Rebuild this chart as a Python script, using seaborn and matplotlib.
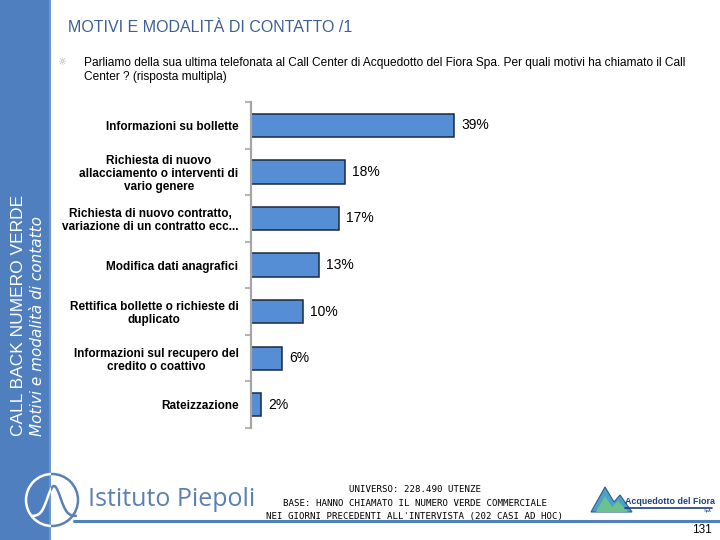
import numpy as np
import pandas as pd
import matplotlib
matplotlib.use("Agg")
import matplotlib.pyplot as plt
import seaborn as sns
from matplotlib.patches import Rectangle, Circle, Polygon

# ---- data ----
categories = [
    "Informazioni su bollette",
    "Richiesta di nuovo\nallacciamento o interventi di\nvario genere",
    "Richiesta di nuovo contratto,\nvariazione di un contratto ecc...",
    "Modifica dati anagrafici",
    "Rettifica bollette o richieste di\nduplicato",
    "Informazioni sul recupero del\ncredito o coattivo",
    "Rateizzazione",
]
values = [39, 18, 17, 13, 10, 6, 2]
value_labels = ["39%", "18%", "17%", "13%", "10%", "6%", "2%"]

title = "MOTIVI E MODALITÀ DI CONTATTO /1"
subtitle = ("Parliamo della sua ultima telefonata al Call Center di Acquedotto del Fiora Spa. "
            "Per quali motivi ha chiamato il Call\nCenter ? (risposta multipla)")
side_title = "CALL BACK NUMERO VERDE"
side_sub = "Motivi e modalità di contatto"
footer_lines = ["UNIVERSO: 228.490 UTENZE",
                "BASE: HANNO CHIAMATO IL NUMERO VERDE COMMERCIALE",
                "NEI GIORNI PRECEDENTI ALL'INTERVISTA (202 CASI AD HOC)"]
page_no = "131"

df = pd.DataFrame({"cat": categories, "val": values})

sns.set_theme(style="white")
plt.rcParams["font.family"] = ["Liberation Sans", "DejaVu Sans"]

W, H = 720, 540
fig = plt.figure(figsize=(7.2, 5.4), dpi=100)
fig.patch.set_facecolor("white")

# background/decoration axes in pixel coordinates
bg = fig.add_axes([0, 0, 1, 1], zorder=0)
bg.set_xlim(0, W)
bg.set_ylim(H, 0)
bg.axis("off")

band_col = "#4F7FBF"
band = Rectangle((0, 0), 51, H, color=band_col, lw=0)
bg.add_patch(band)
bg.add_patch(Rectangle((49, 0), 2, H, color="#6d97cc", lw=0))

bg.text(19, 436, side_title, rotation=90, ha="center", va="bottom",
        color="white", fontsize=12.5, family=["Liberation Sans", "DejaVu Sans"])
bg.text(38, 436, side_sub, rotation=90, ha="center", va="bottom",
        color="white", fontsize=11, style="italic", family=["DejaVu Sans"])

bg.text(68, 28, title, ha="left", va="center", color="#3F5F93", fontsize=11.5)

bg.text(62, 62, "\u263C", ha="center", va="center", color="#a0a0a0", fontsize=7,
        family=["DejaVu Sans"])
bg.text(84, 70, subtitle, ha="left", va="center", color="black", fontsize=8.6,
        linespacing=1.12)

# footer
for i, line in enumerate(footer_lines):
    bg.text(415, 490 + 13 * i, line, ha="center", va="center", fontsize=6.6,
            color="black", family=["DejaVu Sans Mono"])

# Istituto Piepoli logo
logo_col = "#5b80b4"
circ = Circle((52, 500), 26, fill=False, ec=logo_col, lw=1.8)
bg.add_patch(circ)
circ_w = Circle((52, 500), 26, fill=False, ec="white", lw=1.8)
bg.add_patch(circ_w)
circ_w.set_clip_path(band)
t = np.linspace(-1, 1, 80)
wx = 32 + (t + 1) * 22
wy = 516 - 30 * np.exp(-(t * 2.4) ** 2)
bg.plot(wx, wy, color=logo_col, lw=1.8)
wl = bg.plot(wx, wy, color="white", lw=1.8)[0]
wl.set_clip_path(band)
bg.text(88, 500, "Istituto Piepoli", ha="left", va="center", color=logo_col,
        fontsize=18, family=["Open Sans", "DejaVu Sans"])
bg.plot([74, 720], [521, 521], color="#4F81BD", lw=2.2)

# Acquedotto del Fiora logo
bg.add_patch(Polygon([[591, 512], [605, 487], [614, 502], [620, 495], [632, 512]],
                     closed=True, fc="#4f9fc9", ec="#2a5f8f", lw=0.8))
bg.add_patch(Polygon([[596, 512], [605, 496], [612, 507], [618, 501], [628, 512]],
                     closed=True, fc="#6cc28f", ec="none"))
bg.text(625, 501, "Acquedotto del Fiora", ha="left", va="center", color="#1f3f7f",
        fontsize=6.4, fontweight="bold")
bg.plot([625, 712], [508, 508], color="#1f3f7f", lw=1.2)
bg.text(712, 511, "SpA", ha="right", va="center", color="#1f3f7f", fontsize=3)

bg.text(712, 530, page_no, ha="right", va="center", fontsize=8.5, color="black")

# ---- chart ----
left, right, top, bottom = 251, 640, 102, 428
ax = fig.add_axes([left / W, 1 - bottom / H, (right - left) / W, (bottom - top) / H],
                  zorder=1)
ax.patch.set_alpha(0)
sns.barplot(data=df, x="val", y="cat", orient="h", color="#558ED5",
            edgecolor="#1a2a40", linewidth=1.1, width=0.5, saturation=1, ax=ax)
xmax = 39 * (right - left) / 203.0
ax.set_xlim(0, xmax)
ax.set_ylim(len(categories) - 0.5, -0.5)
ax.bar_label(ax.containers[0], labels=value_labels, padding=5, fontsize=10,
             color="black")
ax.set_xlabel("")
ax.set_ylabel("")
ax.set_xticks([])
for s in ["top", "right", "bottom"]:
    ax.spines[s].set_visible(False)
ax.spines["left"].set_color("#a6a6a6")
ax.spines["left"].set_linewidth(1.6)
ax.tick_params(axis="y", which="major", length=0, pad=9)
ax.set_yticks(np.arange(-0.5, len(categories), 1.0), minor=True)
ax.tick_params(axis="y", which="minor", length=4, width=1.2, color="#a6a6a6",
               direction="out", left=True)
for lab in ax.get_yticklabels():
    lab.set_fontweight("bold")
    lab.set_fontsize(8.5)
    lab.set_multialignment("center")
    lab.set_linespacing(1.1)
    lab.set_color("black")

fig.savefig("out.png", dpi=100)
